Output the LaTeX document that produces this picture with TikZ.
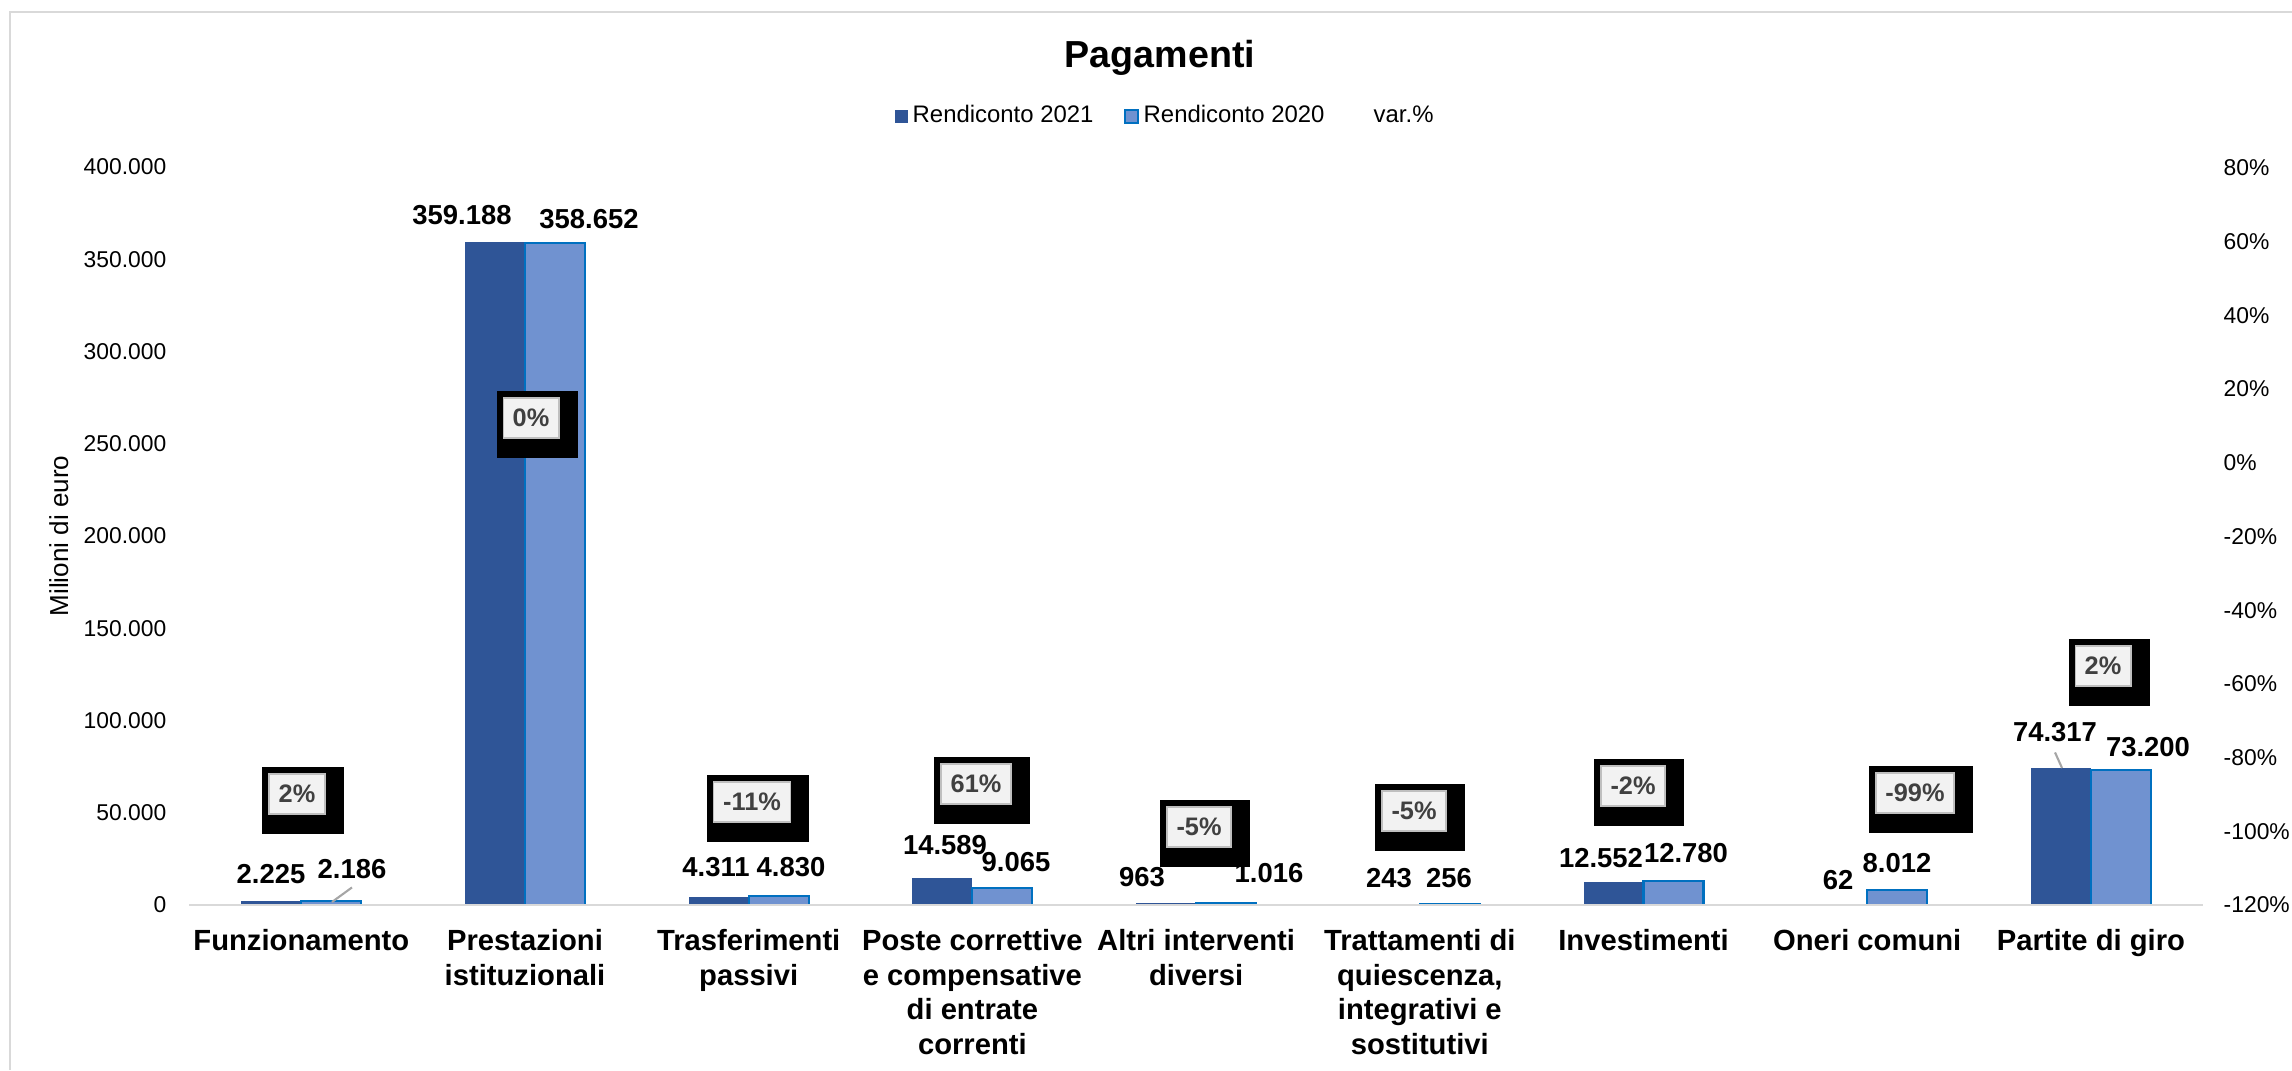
\documentclass[tikz,border=0pt]{standalone}
\usepackage{fontspec}
\setmainfont{Liberation Sans}
\usetikzlibrary{calc}
\definecolor{bar21}{HTML}{2F5597}
\definecolor{bar20}{HTML}{7092D0}
\definecolor{edge20}{HTML}{0070C0}
\definecolor{gridgray}{HTML}{D9D9D9}
\definecolor{labgray}{HTML}{404040}
\definecolor{boxfill}{HTML}{F2F2F2}
\definecolor{boxline}{HTML}{BFBFBF}
\definecolor{leadgray}{HTML}{A6A6A6}
\pgfdeclarelayer{fg}
\pgfsetlayers{main,fg}

\begin{document}
\begin{tikzpicture}[x=0.01cm, y=-0.01cm,
    ticklbl/.style={inner sep=0pt, font=\fontsize{6.5}{7.8}\selectfont},
    vallbl/.style={inner sep=0pt, font=\bfseries\fontsize{7.8}{9.4}\selectfont},
    catlbl/.style={inner sep=0pt, anchor=north, align=center, font=\bfseries\fontsize{8.3}{9.8}\selectfont},
    varlbl/.style={fill=boxfill, draw=boxline, line width=0.4pt, inner xsep=0.095cm, inner ysep=0pt, minimum height=0.4cm, text=labgray, font=\bfseries\fontsize{7.2}{8.6}\selectfont},
    legsq/.style={inner sep=0pt, minimum size=0.13cm, line width=0.6pt},
    legtxt/.style={inner sep=0pt, anchor=base west, font=\fontsize{6.8}{8.2}\selectfont},
    leader/.style={leadgray, line width=0.6pt}]
      \useasboundingbox (0,0) rectangle (2292,1070);
      \draw[gridgray, line width=0.6pt] (10,1070) -- (10,12) -- (2292,12);

      % title and legend
      \node[anchor=base, font=\bfseries\fontsize{10.7}{12.8}\selectfont] (title) at (1160,68) {Pagamenti};
      \node[legsq, fill=bar21] (sq21) at (901.5,116.5) {};
      \node[legtxt] (lg21) at (912,123) {Rendiconto 2021};
      \node[legsq, fill=bar20, draw=edge20] (sq20) at (1131.5,116.5) {};
      \node[legtxt] (lg20) at (1143,123) {Rendiconto 2020};
      \node[legtxt] (lgvar) at (1373,123) {var.\%};

      % axes
      \node[rotate=90, anchor=base, inner sep=0pt, font=\fontsize{7.4}{8.9}\selectfont] (ytitle) at (68,536) {Milioni di euro};
      \foreach \k/\t in {0/0, 1/50.000, 2/100.000, 3/150.000, 4/200.000, 5/250.000, 6/300.000, 7/350.000, 8/400.000}
        \node[ticklbl, anchor=east] (yl\k) at (167, {905-92.25*\k}) {\t};
      \foreach \k/\t in {0/80\%, 1/60\%, 2/40\%, 3/20\%, 4/0\%, 5/-20\%, 6/-40\%, 7/-60\%, 8/-80\%, 9/-100\%, 10/-120\%}
        \node[ticklbl, anchor=west] (yr\k) at (2223, {168+73.7*\k}) {\t};

      % bars (thousands)
      \foreach \i/\a/\b in {0/2.225/2.186, 1/359.188/358.652, 2/4.311/4.830, 3/14.589/9.065, 4/0.963/1.016, 5/0.243/0.256, 6/12.552/12.780, 7/0.062/8.012, 8/74.317/73.200} {
        \fill[bar21] ({301.3+223.7*\i-60}, 905) rectangle ({301.3+223.7*\i}, {905-1.845*\a});
        \filldraw[fill=bar20, draw=edge20, line width=0.6pt] ({301.3+223.7*\i}, 905) rectangle ({301.3+223.7*\i+60}, {905-1.845*\b});
      }
      \draw[gridgray, line width=0.6pt] (189,905) -- (2203,905);

      % categories
      \node[catlbl] (c0) at (301.3,929) {Funzionamento};
      \node[catlbl] (c1) at (525.0,929) {Prestazioni\\istituzionali};
      \node[catlbl] (c2) at (748.7,929) {Trasferimenti\\passivi};
      \node[catlbl] (c3) at (972.4,929) {Poste correttive\\e compensative\\di entrate\\correnti};
      \node[catlbl] (c4) at (1196.1,929) {Altri interventi\\diversi};
      \node[catlbl] (c5) at (1419.8,929) {Trattamenti di\\quiescenza,\\integrativi e\\sostitutivi};
      \node[catlbl] (c6) at (1643.5,929) {Investimenti};
      \node[catlbl] (c7) at (1867.2,929) {Oneri comuni};
      \node[catlbl] (c8) at (2090.9,929) {Partite di giro};

      % values
      \node[vallbl] (v0a) at (271,874) {2.225};
      \node[vallbl] (v0b) at (352,869) {2.186};
      \node[vallbl] (v1a) at (462,215) {359.188};
      \node[vallbl] (v1b) at (589,219) {358.652};
      \node[vallbl] (v2a) at (716,867) {4.311};
      \node[vallbl] (v2b) at (791,867) {4.830};
      \node[vallbl] (v3a) at (945,845) {14.589};
      \node[vallbl] (v3b) at (1016,862) {9.065};
      \node[vallbl] (v4a) at (1142,877) {963};
      \node[vallbl] (v4b) at (1269,873) {1.016};
      \node[vallbl] (v5a) at (1389,878) {243};
      \node[vallbl] (v5b) at (1449,878) {256};
      \node[vallbl] (v6a) at (1601,858) {12.552};
      \node[vallbl] (v6b) at (1686,853) {12.780};
      \node[vallbl] (v7a) at (1838,880) {62};
      \node[vallbl] (v7b) at (1897,863) {8.012};
      \node[vallbl] (v8a) at (2055,732) {74.317};
      \node[vallbl] (v8b) at (2148,747) {73.200};
      \coordinate (t0b) at (332,902);
      \coordinate (t8a) at (2062,768);
      \draw[leader] ($(v0b.south)+(0,8)$) -- (t0b);
      \draw[leader] ($(v8a.south)+(0,10)$) -- (t8a);

      % var.%
      \begin{pgfonlayer}{fg}
        \node[varlbl] (p0) at (297,794) {2\%};
        \node[varlbl] (p1) at (531,418) {0\%};
        \node[varlbl] (p2) at (752,802) {-11\%};
        \node[varlbl] (p3) at (976,784) {61\%};
        \node[varlbl] (p4) at (1199,827) {-5\%};
        \node[varlbl] (p5) at (1414,811) {-5\%};
        \node[varlbl] (p6) at (1633,786) {-2\%};
        \node[varlbl] (p7) at (1915,793) {-99\%};
        \node[varlbl] (p8) at (2103,666) {2\%};
      \end{pgfonlayer}
      \foreach \i in {0,...,8}
        \fill ($(p\i.north west)+(-6,-6)$) rectangle ($(p\i.south east)+(18,19)$);

    \end{tikzpicture}
\end{document}
